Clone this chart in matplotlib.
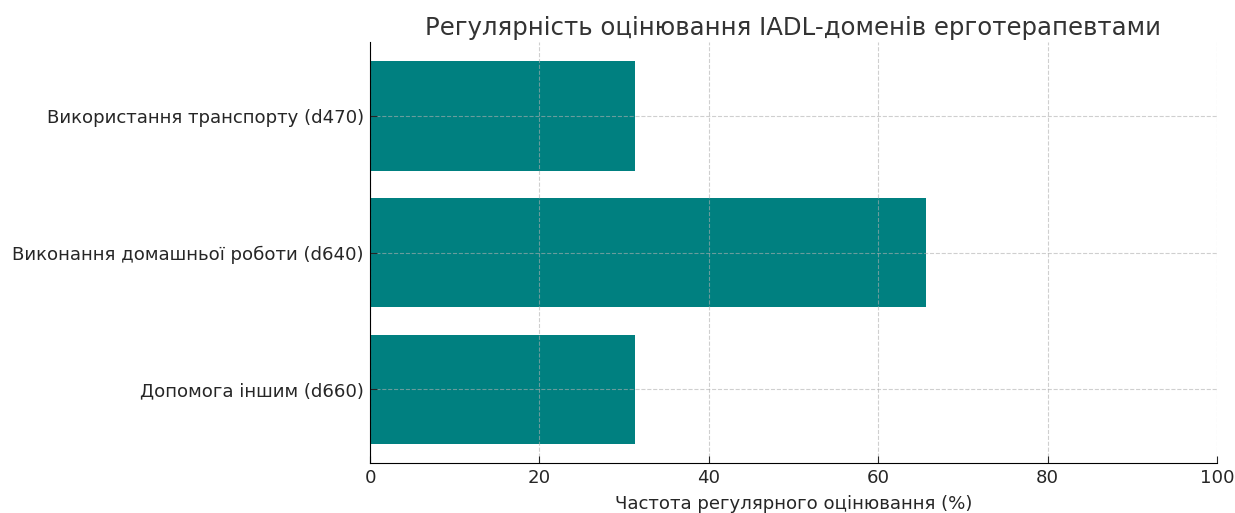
import matplotlib.pyplot as plt

plt.rcParams["font.family"] = ["DejaVu Sans"]

# IADL-домени (знизу догори) та частота регулярного оцінювання, %
domains = [
    "Допомога іншим (d660)",
    "Виконання домашньої роботи (d640)",
    "Використання транспорту (d470)",
]
frequency = [31.3, 65.6, 31.3]

fig, ax = plt.subplots(figsize=(12.35, 5.13), dpi=100)
fig.subplots_adjust(left=0.2996, right=0.9854, top=0.918, bottom=0.0975)

ax.barh(domains, frequency, color="teal")

ax.set_xlim(0, 100)
ax.set_title("Регулярність оцінювання IADL-доменів ерготерапевтами",
             fontsize=17.6, color="#333333", pad=5)
ax.set_xlabel("Частота регулярного оцінювання (%)", fontsize=13.1,
              color="#262626", labelpad=5.5)
ax.tick_params(axis="both", labelsize=13.1, colors="#262626",
               direction="in", length=5, pad=4.5)
ax.grid(True, linestyle="--", alpha=0.6)

ax.spines["top"].set_visible(False)
ax.spines["right"].set_visible(False)

plt.savefig("out.png")
